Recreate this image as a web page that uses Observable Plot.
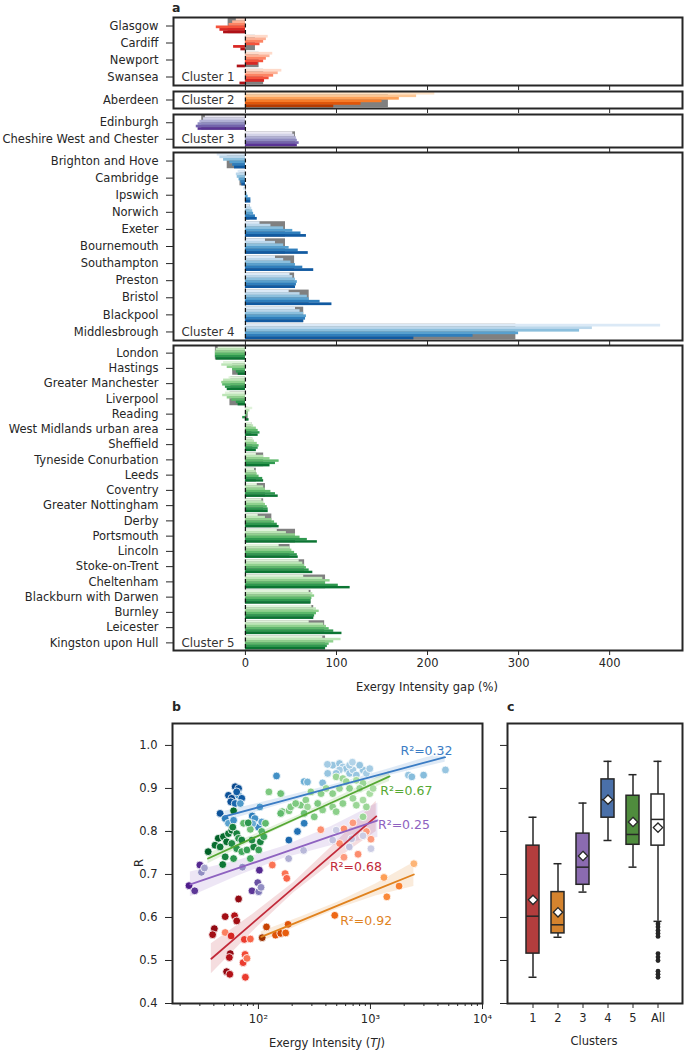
<!DOCTYPE html>
<html><head><meta charset="utf-8">
<script src="https://cdn.jsdelivr.net/npm/d3@7"></script>
<script src="https://cdn.jsdelivr.net/npm/@observablehq/plot@0.6"></script>
<style>
body{margin:0;background:#fff;}
#root{position:relative;width:685px;height:1050px;font-family:"DejaVu Sans",sans-serif;color:#262626;overflow:hidden;background:#fff;}
.wrap{position:absolute;}
.plab{position:absolute;font-weight:bold;font-size:12.5px;line-height:normal;}
.axl{position:absolute;font-size:11.5px;white-space:nowrap;transform:translate(-50%,-50%);line-height:12px;}
</style></head><body><div id="root"></div>
<script>
// ---------------- Panel a data ----------------
const c1Cities = ["Glasgow","Cardiff","Newport","Swansea"];
const c1Gray = [-19, 11, 15, 20];
const c1Bars = [[-10,-14,-18,-32,-28,-24],[25,23,20,16,-13,-5],[30,27,23,20,14,-9],[40,36,31,26,21,-6]];

const c2Cities = ["Aberdeen"];
const c2Gray = [157];
const c2Bars = [[208,188,169,150,127,97]];

const c3Cities = ["Edinburgh","Cheshire West and Chester"];
const c3Gray = [-48, 55];
const c3Bars = [[-44,-46,-50,-52,-54,-52],[52,54,56,57,59,57]];

const c4Cities = ["Brighton and Hove","Cambridge","Ipswich","Norwich","Exeter","Bournemouth","Southampton","Preston","Bristol","Blackpool","Middlesbrough"];
const c4Gray = [-20,-6,1,5,44,44,54,54,70,64,297];
const c4Bars = [[-31,-28,-24,-17,-14,-12],[-8,-10,-9,-7,-5,-4],[-2,1,2,3,6,6],[5,7,8,9,11,13],
  [16,28,42,52,61,67],[22,33,42,48,58,69],[33,42,50,55,63,75],[49,52,55,57,56,55],
  [48,60,68,70,82,95],[55,60,64,67,66,64],[456,381,367,300,250,185]];

const c5Cities = ["London","Hastings","Greater Manchester","Liverpool","Reading","West Midlands urban area","Sheffield","Tyneside Conurbation","Leeds","Coventry","Greater Nottingham","Derby","Portsmouth","Lincoln","Stoke-on-Trent","Cheltenham","Blackburn with Darwen","Burnley","Leicester","Kingston upon Hull"];
const c5Gray = [-33,-14,-16,-17,3,7,8,20,12,22,20,29,55,49,65,88,72,75,87,88];
const c5Bars = [[-30,-32,-33,-33,-33,-32],[-24,-26,-20,-14,-10,-8],[-18,-24,-26,-25,-22,-20],[-22,-25,-20,-15,-10,-8],
  [8,5,3,2,-3,4],[7,9,12,14,16,14],[8,10,13,15,14,12],[12,20,27,37,33,27],[10,12,13,15,19,20],
  [13,20,22,28,33,36],[18,20,22,24,25,25],[14,22,29,32,35,37],[35,45,55,60,68,79],[37,49,51,54,57,58],
  [59,63,65,67,70,74],[64,85,93,88,102,115],[70,74,76,73,72,72],[73,78,81,78,76,75],[70,86,89,92,97,106],[85,105,97,92,90,88]];

const gapTicks = [0,100,200,300,400];
const gapTickLabels = ["0","100","200","300","400"];

// ---------------- Panel b data ----------------
// points: [exergy intensity (TJ), R, shade]
const ptsC1 = [[66.5,.643,.95],[50.5,.602,.9],[61.2,.604,.85],[64,.592,.9],[40.4,.574,.95],[39,.560,.9],[50.5,.565,.35],[57,.557,.7],[74.8,.549,.6],[84.7,.550,.45],[56,.516,.95],[55,.507,.85],[76,.514,.55],[73,.495,.6],[79,.505,.4],[52,.474,.95],[55.5,.468,.85],[76.5,.461,.6],[173,.702,.4],[179,.691,.45],[133,.722,.4],[360,.804,.3],[580,.806,.3],[530,.772,.3],[775,.747,.3],[853,.790,.3],[1010,.782,.25],[580,.740,.25],[697,.820,.25],[920,.800,.25]];
const ptsC2 = [[108,.553,.95],[118,.578,.8],[142,.559,.7],[158,.563,.75],[175,.564,.65],[184,.584,.7],[480,.605,.6],[1400,.648,.45],[1800,.673,.5],[1320,.693,.35],[2440,.725,.25]];
const ptsC3 = [[30,.722,.9],[24,.674,.95],[27,.662,.85],[31,.705,.5],[33,.715,.4],[102,.710,.9],[98.6,.681,.75],[87.6,.662,.85],[100.6,.660,.6],[105.5,.670,.5],[72,.717,.5],[186,.737,.35],[253,.756,.3],[647,.764,.25],[680,.783,.25],[1010,.760,.2],[460,.780,.25],[858,.790,.2],[494,.803,.2]];
const ptsC4 = [[62,.904,.95],[66.5,.900,.9],[54,.884,.9],[57.8,.877,.95],[66.5,.884,.6],[71,.877,.85],[56.6,.869,.9],[62,.865,.8],[68.9,.865,.55],[64,.892,.85],[45.5,.842,.9],[50.5,.830,.7],[54,.819,.5],[60,.826,.6],
  [145,.929,.6],[160,.888,.4],[256,.916,.45],[274,.915,.4],[187,.780,.8],[223,.800,.75],[256,.819,.7],[88,.836,.7],[93,.830,.6],[100,.810,.65],[107,.822,.5],[103,.857,.55],[89,.818,.45],[374,.913,.35],[415,.935,.3],
  [460,.954,.3],[529,.958,.3],[567,.950,.25],[608,.946,.3],[529,.943,.25],[494,.935,.3],[651,.935,.3],[697,.943,.25],[748,.931,.3],[858,.943,.3],[920,.935,.25],[986,.946,.25],[801,.954,.3],[651,.954,.25],[2180,.931,.3],[2340,.927,.35],[2980,.931,.35],[4670,.943,.3],[690,.961,.2],[413,.956,.25]];
const ptsC5 = [[60,.848,.9],[43.8,.784,.95],[48.7,.788,.9],[54,.795,.85],[57.8,.803,.9],[64,.795,.8],[52,.776,.9],[57.8,.772,.75],[66.5,.784,.7],[71,.780,.8],[41,.768,.9],[45.5,.764,.85],[35.6,.753,.95],[64,.760,.7],[71,.753,.6],[79,.757,.65],[90.7,.764,.8],[87.5,.780,.75],[104,.776,.8],[100.6,.757,.65],[84.7,.737,.6],[60,.737,.7],[50.5,.741,.8],[48,.723,.85],[73.6,.819,.5],[84.7,.805,.45],[107,.800,.55],[111.6,.788,.6],[115.6,.819,.5],[59,.810,.8],[81,.820,.7],
  [124,.892,.4],[158,.888,.45],[163,.846,.45],[187.5,.848,.4],[194,.857,.4],[158,.842,.5],[239,.861,.4],[265,.873,.35],[294,.892,.35],[274,.857,.3],[362,.888,.35],[338,.865,.4],[402,.900,.3],[256,.842,.45],[315,.834,.4],[374,.850,.35],[215,.865,.4],
  [494,.927,.3],[567,.923,.3],[608,.916,.3],[748,.919,.25],[858,.912,.3],[801,.900,.3],[651,.900,.35],[529,.900,.3],[460,.888,.35],[697,.877,.3],[858,.873,.25],[986,.888,.25],[1055,.900,.25],[920,.857,.3],[748,.861,.3],[567,.865,.35],[460,.857,.35],[858,.834,.3],[494,.846,.35]];

// regression lines: x positions, fitted R, confidence half-width
const regX1 = [38,88.7,206.8,482,1126];    const regR1 = [.504,.587,.6695,.752,.835]; const regW1 = [.035,.02,.012,.02,.035];
const regX2 = [106,232,508.6,1114,2440];   const regR2 = [.555,.591,.6275,.664,.700]; const regW2 = [.012,.009,.008,.014,.028];
const regX3 = [24.7,64.7,169.6,444,1165];  const regR3 = [.677,.714,.7515,.789,.826]; const regW3 = [.029,.018,.014,.022,.04];
const regX4 = [50.1,155,482,1495,4640];    const regR4 = [.835,.8695,.904,.9385,.973]; const regW4 = [.012,.008,.006,.008,.012];
const regX5 = [35.5,90.2,229,582,1480];    const regR5 = [.737,.785,.8325,.880,.928]; const regW5 = [.012,.007,.005,.007,.012];
const r2Labels = ["R²=0.68","R²=0.92","R²=0.25","R²=0.32","R²=0.67"];
const r2LabelX = [741, 915, 1990, 3160, 2090];
const r2LabelR = [.717, .592, .814, .987, .895];
const expTicks = [100, 1000, 10000];
const expTickLabels = ["10²","10³","10⁴"];
const minorTicks = [20,30,40,50,60,70,80,90,200,300,400,500,600,700,800,900,2000,3000,4000,5000,6000,7000,8000,9000];
const rTicks = [0.4,0.5,0.6,0.7,0.8,0.9,1.0];

// ---------------- Panel c data ----------------
const boxClusters = ["1","2","3","4","5","All"];
const boxLo   = [.461,.554,.659,.779,.717,.591];
const boxQ1   = [.516,.563,.676,.832,.769,.767];
const boxMed  = [.603,.583,.717,.874,.793,.828];
const boxQ3   = [.767,.659,.795,.921,.883,.886];
const boxHi   = [.833,.725,.866,.963,.932,.963];
const boxMean = [.641,.612,.743,.874,.822,.809];
const outliersAll = [.585,.578,.570,.563,.556,.516,.508,.500,.475,.468,.461];

// ---------------- styling ----------------
const ink = "#262626";
const interps = [d3.interpolateReds, d3.interpolateOranges, d3.interpolatePurples, d3.interpolateBlues, d3.interpolateGreens];
const lineColors = ["#c22a3a","#e0821e","#8e62c0","#3b7cc4","#55a833"];
const boxColors = ["#b33d3d","#d4832e","#8b6bb0","#4a70a9","#4f8c3d","#ffffff"];
const baseStyle = {fontFamily:"DejaVu Sans", fontSize:"11.5px", color:ink, background:"transparent", overflow:"visible"};

const root = document.getElementById("root");
function place(el, left, top) {
  const d = document.createElement("div");
  d.className = "wrap";
  d.style.left = left + "px"; d.style.top = top + "px";
  d.appendChild(el); root.appendChild(d);
}
function label(html, cls, x, y, extra) {
  const d = document.createElement("div");
  d.className = cls; d.innerHTML = html;
  d.style.left = x + "px"; d.style.top = y + "px";
  if (extra) d.style.cssText += extra;
  root.appendChild(d);
}

function clusterPlot(cities, gray, bars, interp, name, frameH, last) {
  const n = cities.length;
  const gr = [], sub = [];
  cities.forEach((c, i) => {
    gr.push({v: gray[i], y1: i + 0.05, y2: i + 0.95});
    const m = bars[i].length, h = 0.9 / m;
    bars[i].forEach((v, k) => {
      const y1 = i + 0.05 + k * h;
      sub.push({v, y1, y2: y1 + h + 0.01, fill: interp(0.14 + 0.7 * k / (m - 1))});
    });
  });
  const mb = last ? 45 : 6;
  return Plot.plot({
    width: 685, height: 1 + frameH + mb,
    marginLeft: 173, marginRight: 3, marginTop: 1, marginBottom: mb,
    x: {domain: [-79, 480]},
    y: {domain: [0, n], reverse: true},
    color: {type: "identity"},
    style: baseStyle,
    marks: [
      Plot.rect(gr, {x1: () => 0, x2: "v", y1: "y1", y2: "y2", fill: "#808080"}),
      Plot.rect(sub, {x1: () => 0, x2: "v", y1: "y1", y2: "y2", fill: "fill"}),
      Plot.ruleX([0], {stroke: "#111", strokeWidth: 1.2, strokeDasharray: "4,2.5"}),
      Plot.text([name], {x: () => -79, y: () => n - 0.5, dx: 8, textAnchor: "start", lineAnchor: "middle", fontSize: 11.8, fill: "#333"}),
      Plot.axisY({ticks: cities.map((c, i) => i + 0.5), tickFormat: d => cities[Math.round(d - 0.5)], tickSize: 7, tickPadding: 8, label: null, fontSize: 11.5}),
      Plot.axisX({ticks: gapTicks, tickFormat: last ? (d => gapTickLabels[gapTicks.indexOf(d)]) : (() => ""), tickSize: 5, tickPadding: 3, label: null, fontSize: 11.5}),
      Plot.frame({stroke: ink, strokeWidth: 2})
    ]
  });
}

place(clusterPlot(c1Cities, c1Gray, c1Bars, interps[0], "Cluster 1", 68, false), 0, 16);
place(clusterPlot(c2Cities, c2Gray, c2Bars, interps[1], "Cluster 2", 17, false), 0, 90);
place(clusterPlot(c3Cities, c3Gray, c3Bars, interps[2], "Cluster 3", 33, false), 0, 113);
place(clusterPlot(c4Cities, c4Gray, c4Bars, interps[3], "Cluster 4", 188, false), 0, 151);
place(clusterPlot(c5Cities, c5Gray, c5Bars, interps[4], "Cluster 5", 305, true), 0, 344);

// ---------------- Panel b ----------------
const ptsSets = [ptsC1, ptsC2, ptsC3, ptsC4, ptsC5];
const pts = [];
ptsSets.forEach((s, ci) => s.forEach(p => pts.push({x: p[0], r: p[1], col: interps[ci](0.15 + 0.8 * p[2])})));
const regSets = [[regX1, regR1, regW1], [regX2, regR2, regW2], [regX3, regR3, regW3], [regX4, regR4, regW4], [regX5, regR5, regW5]];
const reg = [];
regSets.forEach(([xs, rs, ws], ci) => xs.forEach((x, i) => reg.push({c: ci, x, r: rs[i], lo: rs[i] - ws[i], hi: rs[i] + ws[i], col: lineColors[ci]})));
const r2 = r2Labels.map((t, i) => ({t, x: r2LabelX[i], r: r2LabelR[i], col: lineColors[i]}));

const plotB = Plot.plot({
  width: 490, height: 350, marginLeft: 172, marginRight: 8, marginTop: 23, marginBottom: 47,
  x: {type: "log", domain: [17.1, 10000]},
  y: {domain: [0.4, 1.051]},
  color: {type: "identity"},
  style: baseStyle,
  marks: [
    Plot.areaY(reg, {x: "x", y1: "lo", y2: "hi", z: "c", fill: "col", fillOpacity: 0.16}),
    Plot.dot(pts, {x: "x", y: "r", r: 3.9, fill: "col", stroke: "white", strokeWidth: 0.8}),
    Plot.line(reg, {x: "x", y: "r", z: "c", stroke: "col", strokeWidth: 1.8}),
    Plot.text(r2, {x: "x", y: "r", text: "t", fill: "col", fontSize: 12.5, stroke: "white", strokeWidth: 3, strokeOpacity: 0.8}),
    Plot.axisX({ticks: minorTicks, tickFormat: () => "", tickSize: 3, label: null}),
    Plot.axisX({ticks: expTicks, tickFormat: d => expTickLabels[expTicks.indexOf(d)], tickSize: 6, tickPadding: 5, label: null, fontSize: 11.5}),
    Plot.axisY({ticks: rTicks, tickFormat: d => d.toFixed(1), tickSize: 7, tickPadding: 8, label: null, fontSize: 11.5}),
    Plot.frame({stroke: ink, strokeWidth: 2})
  ]
});
place(plotB, 0, 700);

// ---------------- Panel c ----------------
const boxes = boxClusters.map((c, i) => ({c, lo: boxLo[i], q1: boxQ1[i], med: boxMed[i], q3: boxQ3[i], hi: boxHi[i], mean: boxMean[i], fill: boxColors[i]}));
const plotC = Plot.plot({
  width: 195, height: 350, marginLeft: 17, marginRight: 3, marginTop: 23, marginBottom: 47,
  x: {type: "band", domain: boxClusters, paddingInner: 0.48, paddingOuter: 0.74},
  y: {domain: [0.4, 1.051]},
  color: {type: "identity"},
  style: baseStyle,
  marks: [
    Plot.ruleX(boxes, {x: "c", y1: "q3", y2: "hi", stroke: ink, strokeWidth: 1.5}),
    Plot.ruleX(boxes, {x: "c", y1: "lo", y2: "q1", stroke: ink, strokeWidth: 1.5}),
    Plot.tickY(boxes, {x: "c", y: "hi", insetLeft: 2.5, insetRight: 2.5, stroke: ink, strokeWidth: 1.5}),
    Plot.tickY(boxes, {x: "c", y: "lo", insetLeft: 2.5, insetRight: 2.5, stroke: ink, strokeWidth: 1.5}),
    Plot.barY(boxes, {x: "c", y1: "q1", y2: "q3", fill: "fill", stroke: ink, strokeWidth: 1.5}),
    Plot.tickY(boxes, {x: "c", y: "med", stroke: ink, strokeWidth: 1.5}),
    Plot.dot(boxes, {x: "c", y: "mean", symbol: "diamond2", r: 4.2, fill: "white", stroke: ink, strokeWidth: 1.3}),
    Plot.dot(outliersAll, {x: () => "All", y: d => d, r: 2.4, fill: ink}),
    Plot.axisX({tickSize: 5, tickPadding: 5, label: null, fontSize: 11.5}),
    Plot.axisY({ticks: rTicks, tickFormat: () => "", tickSize: 7, label: null}),
    Plot.frame({stroke: ink, strokeWidth: 2})
  ]
});
place(plotC, 490, 700);

// ---------------- text labels ----------------
label("a", "plab", 172, 0);
label("b", "plab", 172, 699);
label("c", "plab", 507, 699);
label("Exergy Intensity gap (%)", "axl", 427, 687);
label("Exergy Intensity (<i>TJ</i>)", "axl", 327, 1043);
label("Clusters", "axl", 594, 1041);
label("R", "axl", 139, 863, "transform:translate(-50%,-50%) rotate(-90deg);");
</script></body></html>
